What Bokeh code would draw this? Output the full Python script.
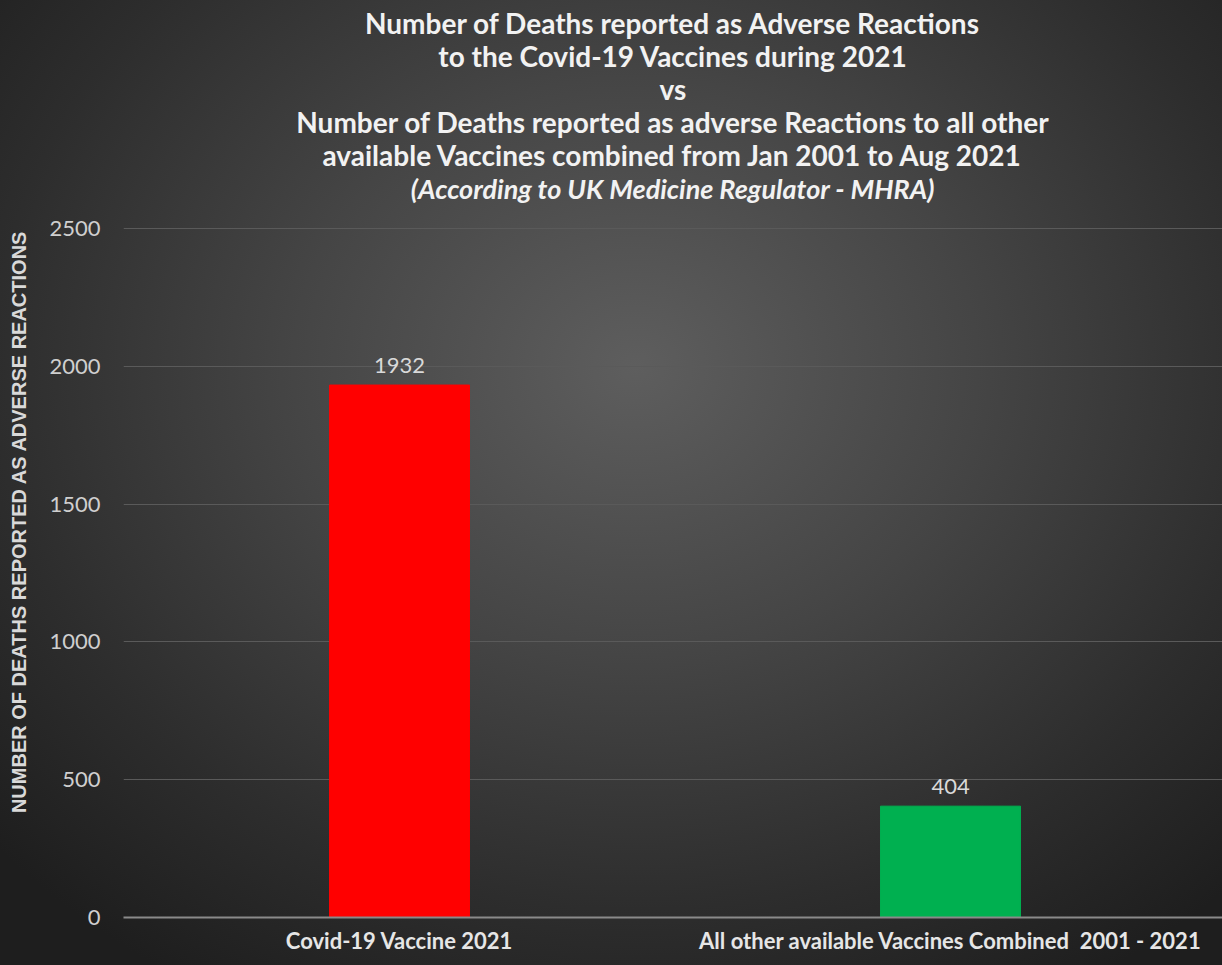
from bokeh.plotting import figure
from bokeh.models import ColumnDataSource, LabelSet, Title, FixedTicker
from bokeh.core.properties import value
from bokeh.embed import file_html
from bokeh.resources import INLINE

categories = ["Covid-19 Vaccine 2021", "All other available Vaccines Combined\u00a0\u00a02001 - 2021"]
deaths = [1932, 404]
colors = ["#ff0000", "#00b050"]
labels = [str(v) for v in deaths]
y_ticks = [0, 500, 1000, 1500, 2000, 2500]

title_lines = [
    "Number of Deaths reported as Adverse Reactions",
    "to the Covid-19 Vaccines during 2021",
    "vs",
    "Number of Deaths reported as adverse Reactions to all other",
    "available Vaccines combined from Jan 2001 to Aug 2021",
]
subtitle = "(According to UK Medicine Regulator - MHRA)"
y_label = "NUMBER OF DEATHS REPORTED AS ADVERSE REACTIONS"

xpos = list(range(len(categories)))
src = ColumnDataSource(dict(x=xpos, val=deaths, col=colors, lab=labels))

FONT = "Lato"
p = figure(x_range=(-0.5009, 1.4936), y_range=(0, 2590.7), width=1222, height=965,
           output_backend="svg", toolbar_location=None,
           min_border_left=123, min_border_right=0, min_border_bottom=48, min_border_top=203)
p.styles = {"background": "radial-gradient(ellipse 70% 75% at 52% 38%, #5e5e5e 0%, #454545 40%, #2d2d2d 75%, #1e1e1e 100%)"}
p.background_fill_alpha = 0
p.border_fill_alpha = 0
p.outline_line_color = None

p.vbar(x="x", top="val", width=0.254, color="col", source=src)

p.add_layout(LabelSet(x="x", y="val", text="lab", source=src, y_offset=12,
                      text_align="center", text_baseline="bottom",
                      text_font=value(FONT), text_font_size="22px", text_color="#d9d9d9"))

# Titles (added from the frame outward)
p.add_layout(Title(text=subtitle, align="center", text_font=FONT, text_font_size="27px",
                   text_font_style="bold italic", text_color="#f2f2f2", standoff=-2), "above")
for line in reversed(title_lines):
    p.add_layout(Title(text=line, align="center", text_font=FONT, text_font_size="28px",
                       text_font_style="bold", text_color="#f2f2f2", standoff=-3), "above")

p.ygrid.grid_line_color = "#5a5a5a"
p.ygrid.grid_line_width = 1
p.xgrid.grid_line_color = None

p.yaxis.ticker = FixedTicker(ticks=y_ticks)
p.yaxis.axis_line_color = None
p.yaxis.major_tick_line_color = None
p.yaxis.minor_tick_line_color = None
p.yaxis.major_tick_out = 0
p.yaxis.minor_tick_out = 0
p.yaxis.major_label_text_font = FONT
p.yaxis.major_label_text_font_size = "22px"
p.yaxis.major_label_text_color = "#cfcfcf"
p.yaxis.major_label_standoff = 23
p.yaxis.axis_label = "\u00a0" * 14 + y_label
p.yaxis.axis_label_text_font = "Liberation Sans"
p.yaxis.axis_label_text_font_size = "20px"
p.yaxis.axis_label_text_font_style = "bold"
p.yaxis.axis_label_text_color = "#d9d9d9"
p.yaxis.axis_label_standoff = 16

p.xaxis.ticker = FixedTicker(ticks=xpos)
p.xaxis.major_label_overrides = {i: c for i, c in zip(xpos, categories)}
p.xaxis.axis_line_color = "#8a8a8a"
p.xaxis.axis_line_width = 2
p.xaxis.major_tick_line_color = None
p.xaxis.minor_tick_line_color = None
p.xaxis.major_tick_out = 0
p.xaxis.minor_tick_out = 0
p.xaxis.major_label_text_font = FONT
p.xaxis.major_label_text_font_size = "22px"
p.xaxis.major_label_text_font_style = "bold"
p.xaxis.major_label_text_color = "#e6e6e6"
p.xaxis.major_label_standoff = 9

open("out.html", "w").write(file_html(p, INLINE))
